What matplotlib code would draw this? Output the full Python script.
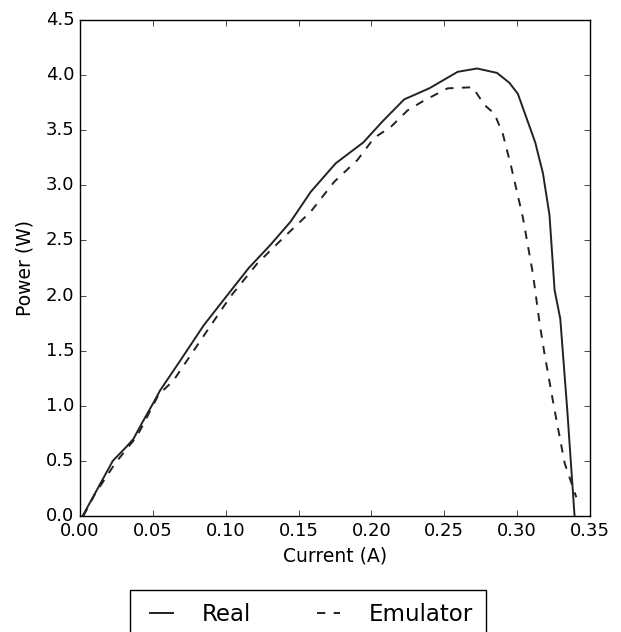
import matplotlib
matplotlib.use('Agg')
import matplotlib.pyplot as plt

# measured data (current in A, power in W)
real_i = [0.0018, 0.0225, 0.032, 0.0367, 0.0424, 0.0505, 0.055, 0.0688, 0.0849,
          0.1009, 0.1158, 0.1307, 0.1445, 0.1583, 0.1755, 0.1945, 0.2076, 0.2225,
          0.2397, 0.2592, 0.2725, 0.2862, 0.2947, 0.3005, 0.3124, 0.3177, 0.3222,
          0.3257, 0.3296, 0.3344, 0.3394]
real_p = [0.0, 0.50, 0.63, 0.70, 0.84, 1.03, 1.14, 1.41, 1.73,
          2.00, 2.25, 2.46, 2.67, 2.94, 3.20, 3.39, 3.58, 3.78,
          3.88, 4.03, 4.06, 4.02, 3.93, 3.83, 3.39, 3.11, 2.73,
          2.05, 1.79, 0.96, 0.0]

emu_i = [0.0023, 0.0103, 0.024, 0.0333, 0.039, 0.0539, 0.0642, 0.0826, 0.1032,
         0.1216, 0.14, 0.1583, 0.1743, 0.1904, 0.2018, 0.2133, 0.2248, 0.2362,
         0.2523, 0.2695, 0.2775, 0.2844, 0.2901, 0.2959, 0.3039, 0.3108, 0.3154,
         0.3188, 0.3257, 0.3326, 0.3406]
emu_p = [0.0, 0.20, 0.475, 0.63, 0.72, 1.10, 1.23, 1.59, 1.99,
         2.29, 2.53, 2.76, 3.03, 3.23, 3.43, 3.53, 3.68, 3.77,
         3.88, 3.89, 3.73, 3.65, 3.47, 3.17, 2.71, 2.20, 1.75,
         1.47, 0.96, 0.48, 0.17]

plt.style.use('classic')
plt.rcParams['font.size'] = 13
fig = plt.figure(figsize=(6.21, 6.32), dpi=100, facecolor='white')
ax = fig.add_axes([80/621, 1-516/632, 510/621, 496/632])

ax.plot(real_i, real_p, color='#222222', ls='-', lw=1.4, label='Real')
ax.plot(emu_i, emu_p, color='#222222', ls='--', lw=1.4, label='Emulator')

ax.set_xlim(0, 0.35)
ax.set_ylim(0, 4.5)
ax.tick_params(labelsize=13)
ax.set_xlabel('Current (A)', fontsize=13.5)
ax.set_ylabel('Power (W)', fontsize=13.5, labelpad=8)

fig.legend(loc='upper center', bbox_to_anchor=(308/621, 1-590/632), ncol=2,
           fancybox=False, fontsize=16.5, borderpad=0.55, borderaxespad=0,
           columnspacing=2.6, handlelength=1.6, handletextpad=0.95)

fig.savefig('out.png', dpi=100, facecolor='white')
